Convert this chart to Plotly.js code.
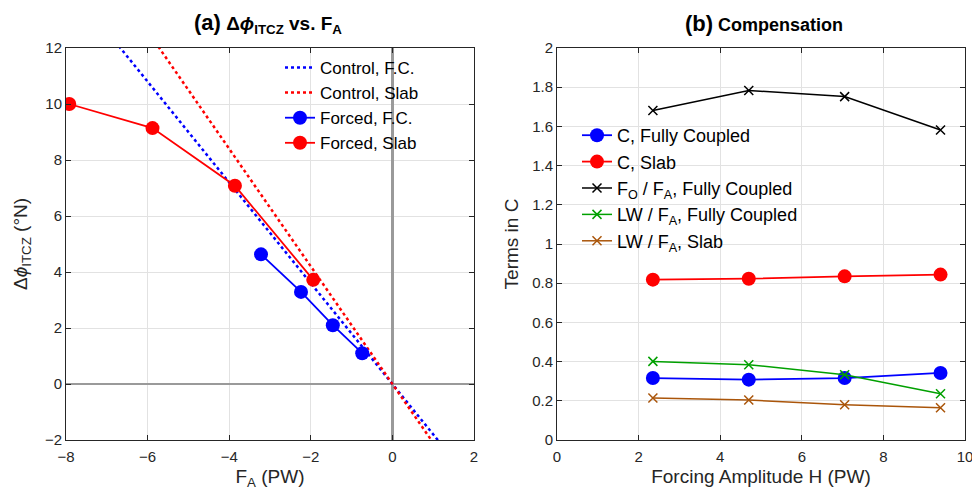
<!DOCTYPE html>
<html><head><meta charset="utf-8">
<script src="https://cdn.plot.ly/plotly-3.0.1.min.js"></script>
<style>html,body{margin:0;padding:0;background:#fff}#chart{width:972px;height:493px}</style>
</head><body><div id="chart"></div>
<script>
// ---- Panel (a) data ----
const controlX = [-8, 2];
const slopeControlFC = -1.8;
const slopeControlSlab = -2.1;
const forcedFC_x = [-3.22, -2.24, -1.46, -0.74];
const forcedFC_y = [4.63, 3.29, 2.10, 1.10];
const forcedSlab_x = [-7.92, -5.88, -3.86, -1.94];
const forcedSlab_y = [10.0, 9.14, 7.08, 3.72];
// ---- Panel (b) data ----
const H = [2.35, 4.7, 7.05, 9.4];
const C_FC = [0.316, 0.308, 0.316, 0.342];
const C_Slab = [0.818, 0.823, 0.835, 0.844];
const FO_FA_FC = [1.681, 1.783, 1.752, 1.582];
const LW_FA_FC = [0.401, 0.384, 0.333, 0.236];
const LW_FA_Slab = [0.214, 0.204, 0.180, 0.165];

const FONT = 'Liberation Sans, Arial, Helvetica, sans-serif';
const AX = '#262626';
const BLUE = 'rgb(0,0,255)', RED = 'rgb(255,0,0)', GREEN = 'rgb(0,160,0)', BROWN = 'rgb(170,85,10)';

const traces = [
  {x: controlX, y: controlX.map(v => v * slopeControlFC), mode: 'lines', name: 'Control, F.C.',
   line: {color: BLUE, dash: 'dot', width: 2.5}, xaxis: 'x', yaxis: 'y', legend: 'legend'},
  {x: controlX, y: controlX.map(v => v * slopeControlSlab), mode: 'lines', name: 'Control, Slab',
   line: {color: RED, dash: 'dot', width: 2.5}, xaxis: 'x', yaxis: 'y', legend: 'legend'},
  {x: forcedFC_x, y: forcedFC_y, mode: 'lines+markers', name: 'Forced, F.C.',
   line: {color: BLUE, width: 1.8}, marker: {color: BLUE, size: 14, symbol: 'circle'}, xaxis: 'x', yaxis: 'y', legend: 'legend'},
  {x: forcedSlab_x, y: forcedSlab_y, mode: 'lines+markers', name: 'Forced, Slab',
   line: {color: RED, width: 1.8}, marker: {color: RED, size: 14, symbol: 'circle'}, xaxis: 'x', yaxis: 'y', legend: 'legend'},

  {x: H, y: C_FC, mode: 'lines+markers', name: 'C, Fully Coupled',
   line: {color: BLUE, width: 1.8}, marker: {color: BLUE, size: 14}, xaxis: 'x2', yaxis: 'y2', legend: 'legend2'},
  {x: H, y: C_Slab, mode: 'lines+markers', name: 'C, Slab',
   line: {color: RED, width: 1.8}, marker: {color: RED, size: 14}, xaxis: 'x2', yaxis: 'y2', legend: 'legend2'},
  {x: H, y: FO_FA_FC, mode: 'lines+markers', name: 'F<sub>O</sub> / F<sub>A</sub>, Fully Coupled',
   line: {color: 'black', width: 1.5}, marker: {color: 'black', size: 9, symbol: 'x-thin', line: {color: 'black', width: 1.5}}, xaxis: 'x2', yaxis: 'y2', legend: 'legend2'},
  {x: H, y: LW_FA_FC, mode: 'lines+markers', name: 'LW / F<sub>A</sub>, Fully Coupled',
   line: {color: GREEN, width: 1.5}, marker: {color: GREEN, size: 9, symbol: 'x-thin', line: {color: GREEN, width: 1.5}}, xaxis: 'x2', yaxis: 'y2', legend: 'legend2'},
  {x: H, y: LW_FA_Slab, mode: 'lines+markers', name: 'LW / F<sub>A</sub>, Slab',
   line: {color: BROWN, width: 1.5}, marker: {color: BROWN, size: 9, symbol: 'x-thin', line: {color: BROWN, width: 1.5}}, xaxis: 'x2', yaxis: 'y2', legend: 'legend2'}
];

const axisBase = {
  showline: true, linecolor: AX, linewidth: 1, mirror: 'ticks',
  ticks: 'inside', ticklen: 5, tickcolor: AX, tickwidth: 1,
  showgrid: true, gridcolor: '#e2e2e2', gridwidth: 1,
  tickfont: {family: FONT, size: 15, color: AX}, automargin: false,
  ticklabeloverflow: 'allow'
};
const titleFont = {family: FONT, size: 19, color: AX};

const layout = {
  width: 972, height: 493,
  margin: {l: 0, r: 0, t: 48, b: 53},
  paper_bgcolor: 'white', plot_bgcolor: 'white',
  font: {family: FONT, color: AX},
  xaxis: Object.assign({}, axisBase, {
    domain: [66/972, 474/972], range: [-8, 2], dtick: 2, tick0: 0,
    zeroline: true, zerolinecolor: '#9a9a9a', zerolinewidth: 2.5,
    ticklabelstandoff: 3,
    title: {text: 'F<sub>A</sub> (PW)', font: titleFont, standoff: 5}
  }),
  yaxis: Object.assign({}, axisBase, {
    domain: [0, 1], range: [-2, 12], dtick: 2, tick0: 0,
    zeroline: true, zerolinecolor: '#9a9a9a', zerolinewidth: 2.5,
    title: {text: 'Δ<i>ϕ</i><sub>ITCZ</sub> (°N)', font: titleFont, standoff: 12}
  }),
  xaxis2: Object.assign({}, axisBase, {
    anchor: 'y2', domain: [557/972, 965/972], range: [0, 10], dtick: 2, zeroline: false,
    ticklabelstandoff: 3,
    title: {text: 'Forcing Amplitude H (PW)', font: titleFont, standoff: 5}
  }),
  yaxis2: Object.assign({}, axisBase, {
    anchor: 'x2', domain: [0, 1], range: [0, 2], dtick: 0.2, zeroline: false,
    title: {text: 'Terms in C', font: titleFont, standoff: 8}
  }),
  legend: {
    x: 280/972, y: 0.995, xanchor: 'left', yanchor: 'top',
    bgcolor: 'rgba(0,0,0,0)', borderwidth: 0,
    font: {family: FONT, size: 17, color: 'black'}, traceorder: 'normal'
  },
  legend2: {
    x: 577/972, y: 0.824, xanchor: 'left', yanchor: 'top',
    bgcolor: 'rgba(0,0,0,0)', borderwidth: 0,
    font: {family: FONT, size: 18, color: 'black'}, traceorder: 'normal'
  },
  showlegend: true,
  annotations: [
    {xref: 'paper', yref: 'paper', x: 268/972, y: 1, yshift: 25, xanchor: 'center', yanchor: 'middle', showarrow: false,
     text: '<b><span style="font-size:22px">(a)</span> Δ<i>ϕ</i><sub>ITCZ</sub> vs. F<sub>A</sub></b>',
     font: {family: FONT, size: 19, color: 'black'}},
    {xref: 'paper', yref: 'paper', x: 764/972, y: 1, yshift: 25, xanchor: 'center', yanchor: 'middle', showarrow: false,
     text: '<b><span style="font-size:22px">(b)</span> Compensation</b>',
     font: {family: FONT, size: 18, color: 'black'}}
  ]
};

Plotly.newPlot('chart', traces, layout, {displayModeBar: false, staticPlot: true});
</script>
</body></html>
